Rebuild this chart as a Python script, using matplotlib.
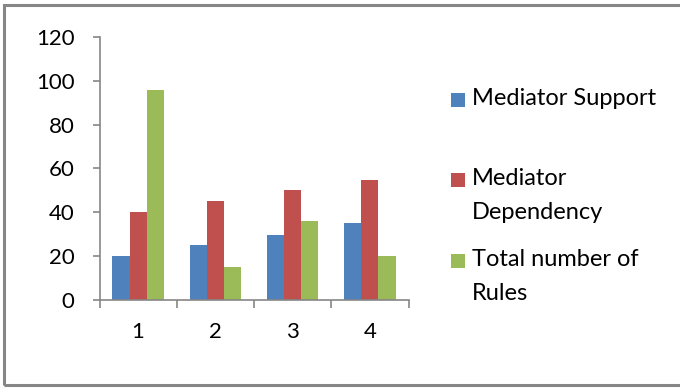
import numpy as np
import matplotlib.pyplot as plt
from matplotlib.patches import Rectangle

categories = ["1", "2", "3", "4"]
support = [20, 25, 29.6, 35]
dependency = [40, 45, 50, 54.7]
total_rules = [96, 15, 36, 20]

series_names = ["Mediator Support", "Mediator\nDependency", "Total number of\nRules"]
colors = ["#4F81BD", "#C0504D", "#9BBB59"]
axis_grey = "#868686"

plt.rcParams["font.family"] = ["Lato", "DejaVu Sans"]

fig = plt.figure(figsize=(6.8, 3.9), dpi=100)
ax = fig.add_axes([99.5 / 680, 90 / 390, 309 / 680, 263 / 390])

x = np.arange(1, len(categories) + 1)
width = 1 / 4.5
for i, (vals, c) in enumerate(zip([support, dependency, total_rules], colors)):
    ax.bar(x + (i - 1) * width, vals, width=width, color=c, linewidth=0)

ax.set_xlim(0.5, len(categories) + 0.5)
ax.set_ylim(0, 120)
ax.set_yticks(range(0, 121, 20))

# category boundaries get tick marks, labels sit in the middle of each group
ax.set_xticks(np.arange(0.5, len(categories) + 1, 1))
ax.set_xticklabels([])
ax.set_xticks(x, minor=True)
ax.set_xticklabels(categories, minor=True)
ax.tick_params(axis="x", which="major", length=6, width=1.2, color=axis_grey, direction="out")
ax.tick_params(axis="x", which="minor", length=0, pad=16, labelsize=16)
ax.tick_params(axis="y", length=5, width=1.2, color=axis_grey, pad=13, labelsize=16)

for side in ["top", "right"]:
    ax.spines[side].set_visible(False)
for side in ["left", "bottom"]:
    ax.spines[side].set_color(axis_grey)
    ax.spines[side].set_linewidth(1.2)

# legend drawn by hand so markers line up with the first text line
legend_rows = [100, 180, 261]
for name, c, ypix in zip(series_names, colors, legend_rows):
    fig.patches.append(Rectangle((451 / 680, 1 - (ypix + 7) / 390), 14 / 680, 14 / 390,
                                 transform=fig.transFigure, color=c, linewidth=0))
    fig.text(472 / 680, 1 - (ypix - 12) / 390, name, fontsize=17, va="top", ha="left",
             linespacing=1.75, color="black")

# outer chart frame
fig.patches.append(Rectangle((4 / 680, 5 / 390), 700 / 680, 380 / 390,
                             transform=fig.transFigure, fill=False,
                             edgecolor=axis_grey, linewidth=2.2))

fig.savefig("out.png", dpi=100)
